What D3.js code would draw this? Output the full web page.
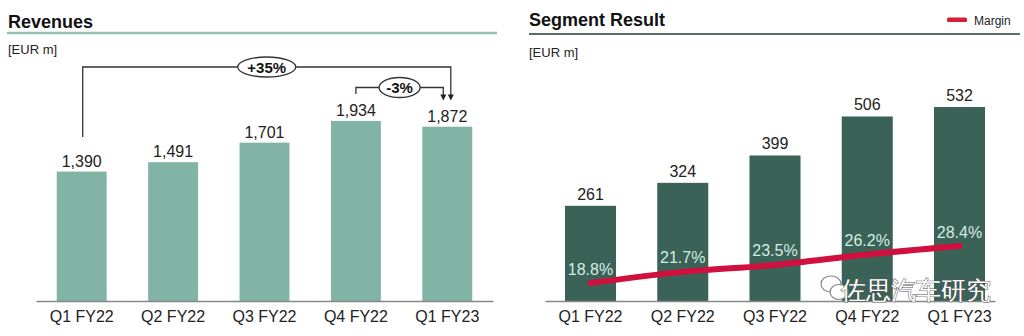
<!DOCTYPE html>
<html><head><meta charset="utf-8">
<script src="https://cdn.jsdelivr.net/npm/d3@7"></script>
<style>body{margin:0;background:#fff}svg{display:block}text{font-family:"Liberation Sans",Arial,sans-serif}</style>
</head><body><svg id="c" width="1024" height="336"></svg>
<script>
const categories = ["Q1 FY22","Q2 FY22","Q3 FY22","Q4 FY22","Q1 FY23"];
const revenues = [1390,1491,1701,1934,1872];
const segmentResult = [261,324,399,506,532];
const margin = [18.8,21.7,23.5,26.2,28.4];
const fmt = d3.format(",");

const svg = d3.select("#c");
const baseY = 301;

// ---------- Left: Revenues ----------
const xL = d3.scaleBand().domain(categories).range([36,493]).paddingInner(0.454).paddingOuter(0.227);
const yL = d3.scaleLinear().domain([0,2000]).range([baseY, baseY-186.2]);

svg.append("text").attr("x",8).attr("y",28).attr("font-size",18).attr("font-weight","bold").attr("fill","#111").text("Revenues");
svg.append("line").attr("x1",7).attr("x2",497).attr("y1",33).attr("y2",33).attr("stroke","#97c0b4").attr("stroke-width",2.5);
svg.append("text").attr("x",8).attr("y",54).attr("font-size",13).attr("fill","#222").text("[EUR m]");

const gL = svg.append("g");
gL.selectAll("rect").data(revenues).join("rect")
  .attr("x",(d,i)=>xL(categories[i])).attr("width",xL.bandwidth())
  .attr("y",d=>yL(d)).attr("height",d=>baseY-yL(d)).attr("fill","#82b4a5");
gL.selectAll("text.v").data(revenues).join("text").attr("class","v")
  .attr("x",(d,i)=>xL(categories[i])+xL.bandwidth()/2).attr("y",d=>yL(d)-5)
  .attr("text-anchor","middle").attr("font-size",16).attr("fill","#222").text(d=>fmt(d));

const axL = svg.append("g").attr("transform",`translate(0,${baseY})`).call(d3.axisBottom(xL).tickSize(0).tickPadding(10));
axL.select(".domain").attr("stroke","#888").attr("stroke-width",1.5);
axL.selectAll("text").attr("font-size",16).attr("fill","#222").attr("font-family","Liberation Sans, Arial, sans-serif");

// brackets
const cx = i => xL(categories[i]) + xL.bandwidth()/2;
const br = svg.append("g").attr("stroke","#333").attr("stroke-width",1.3).attr("fill","none");
const x35a = cx(0)+1, x35b = cx(4)+3.5, lvl35 = 67;
br.append("path").attr("d",`M${x35a},137V${lvl35}H${x35b}V96`);
const x3a = cx(3), x3b = cx(4)-4, lvl3 = 87.5;
br.append("path").attr("d",`M${x3a},94V${lvl3}H${x3b}V96`);
[x35b,x3b].forEach(x=>{
  svg.append("path").attr("d",`M${x-3},94.5L${x+3},94.5L${x},100.5Z`).attr("fill","#222");
});
[[ (x35a+x35b)/2, lvl35, 29, 10, "+35%"],[ (x3a+x3b)/2, lvl3, 20.5, 10, "-3%"]].forEach(([x,y,rx,ry,t])=>{
  svg.append("ellipse").attr("cx",x).attr("cy",y).attr("rx",rx).attr("ry",ry).attr("fill","#fff").attr("stroke","#333").attr("stroke-width",1.3);
  svg.append("text").attr("x",x).attr("y",y+5.5).attr("text-anchor","middle").attr("font-size",15).attr("font-weight","bold").attr("fill","#111").text(t);
});

// ---------- Right: Segment Result ----------
const xR = d3.scaleBand().domain(categories).range([545,995]).paddingInner(0.447).paddingOuter(0.1625).align(0.667);
const yR = d3.scaleLinear().domain([0,600]).range([baseY, baseY-218.8]);
const yM = d3.scaleLinear().domain([0,30]).range([355.5, 355.5-115.6]);

svg.append("text").attr("x",529).attr("y",26).attr("font-size",18).attr("font-weight","bold").attr("fill","#111").text("Segment Result");
svg.append("line").attr("x1",529).attr("x2",1020).attr("y1",34).attr("y2",34).attr("stroke","#5b6e68").attr("stroke-width",2);
svg.append("text").attr("x",529).attr("y",57).attr("font-size",13).attr("fill","#222").text("[EUR m]");
svg.append("rect").attr("x",947).attr("y",17.5).attr("width",20).attr("height",4.5).attr("rx",1.5).attr("fill","#d51f35");
svg.append("text").attr("x",974).attr("y",25).attr("font-size",12).attr("fill","#222").text("Margin");

const gR = svg.append("g");
gR.selectAll("rect").data(segmentResult).join("rect")
  .attr("x",(d,i)=>xR(categories[i])).attr("width",xR.bandwidth())
  .attr("y",d=>yR(d)).attr("height",d=>baseY-yR(d)).attr("fill","#3b6256");
gR.selectAll("text.v").data(segmentResult).join("text").attr("class","v")
  .attr("x",(d,i)=>xR(categories[i])+xR.bandwidth()/2).attr("y",d=>yR(d)-6)
  .attr("text-anchor","middle").attr("font-size",16).attr("fill","#222").text(d=>d);

const axR = svg.append("g").attr("transform",`translate(0,${baseY})`).call(d3.axisBottom(xR).tickSize(0).tickPadding(10));
axR.select(".domain").attr("stroke","#888").attr("stroke-width",1.5);
axR.selectAll("text").attr("font-size",16).attr("fill","#222").attr("font-family","Liberation Sans, Arial, sans-serif");

const cxR = i => xR(categories[i]) + xR.bandwidth()/2;
svg.append("path").datum(margin)
  .attr("d", d3.line().x((d,i)=>cxR(i)).y(d=>yM(d)).curve(d3.curveMonotoneX))
  .attr("fill","none").attr("stroke","#d0103f").attr("stroke-width",6).attr("stroke-linecap","round");
svg.append("g").selectAll("text").data(margin).join("text")
  .attr("x",(d,i)=>cxR(i)).attr("y",d=>yM(d)-8.5).attr("text-anchor","middle")
  .attr("font-size",16).attr("fill","#d3ece3").text(d=>d.toFixed(1)+"%");

// watermark
const wm = svg.append("g").attr("fill","#fff").attr("stroke","#888").attr("stroke-width",1.2);
wm.append("ellipse").attr("cx",831).attr("cy",284).attr("rx",10).attr("ry",8);
wm.append("ellipse").attr("cx",839).attr("cy",292).attr("rx",9).attr("ry",7.5);
svg.append("text").attr("x",841).attr("y",299).attr("font-size",25)
  .attr("font-family","Noto Sans CJK SC").attr("fill","#fff").attr("stroke","#555").attr("stroke-width",1)
  .attr("paint-order","stroke")
  .text("佐思汽车研究");
</script></body></html>
